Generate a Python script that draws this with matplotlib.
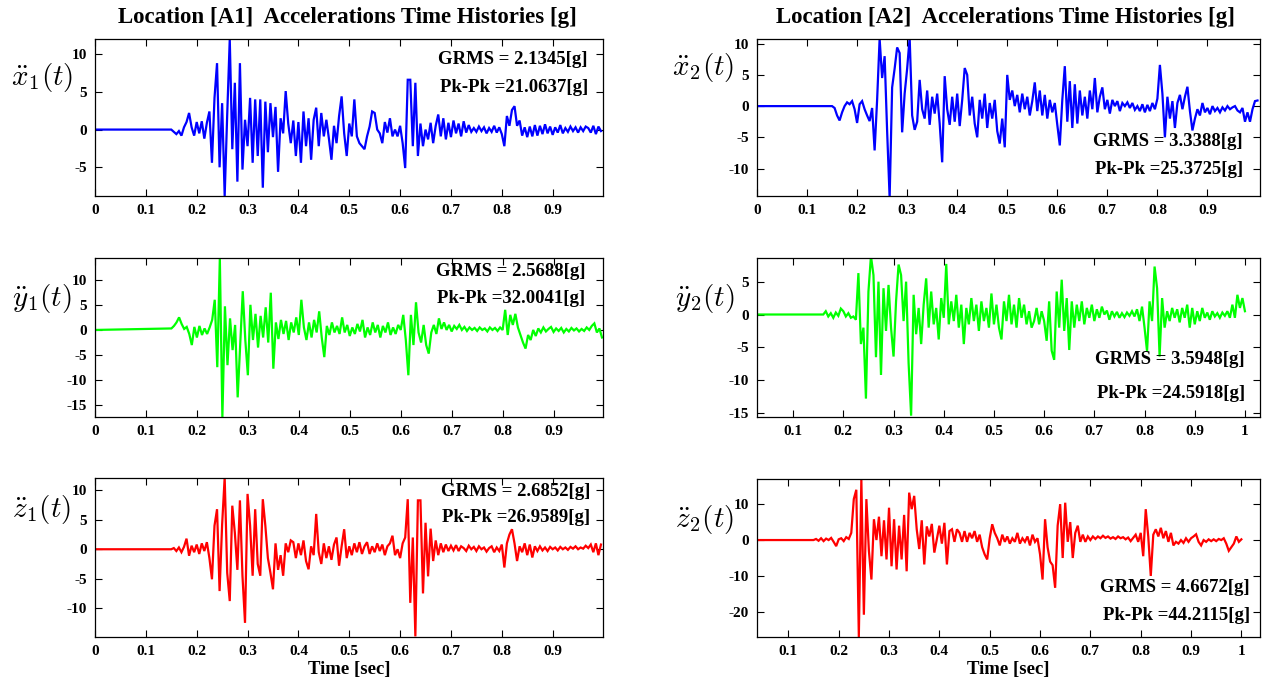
import numpy as np
import matplotlib
matplotlib.use("Agg")
import matplotlib.pyplot as plt

plt.rcParams['font.family'] = ['Liberation Serif', 'DejaVu Serif']
plt.rcParams['font.weight'] = 'bold'
plt.rcParams['mathtext.fontset'] = 'cm'
plt.rcParams['axes.unicode_minus'] = False

# ---------------- data: acceleration records [g], sampled every 5 ms after onset ----------------
dt = 0.005

x1_t0 = 0.15
x1 = [0.0, -0.3, -0.6, -0.2, -0.8, 0.3, 1.0, 2.2, 0.3, -0.8,
      1.0, -0.5, 1.1, -1.2, 0.9, 2.4, -4.4, 4.2, 8.8, -5.0,
      3.5, -8.8, 2.0, 12.0, -2.6, 6.2, -6.9, 8.8, -5.3, 1.3,
      -2.2, 4.2, -4.4, 4.0, -3.5, 4.0, -7.7, 3.7, -3.0, 3.5,
      -1.0, 3.0, -5.6, 1.5, -0.5, 5.1, 0.8, -1.8, 1.2, -3.5,
      1.0, -4.4, 2.4, -2.2, 1.5, -4.0, 1.3, 2.9, -2.2, 2.2,
      -0.9, 1.3, -1.2, -4.0, 0.5, -1.8, 1.8, 4.4, -0.5, -3.5,
      0.8, -0.9, 4.0, -0.9, -1.8, -2.2, -2.6, -0.9, 0.4, 2.4,
      2.2, 0.0, -0.5, -1.8, 1.0, -0.4, 1.5, -0.9, 0.0, -0.9,
      0.5, -1.8, -5.1, 6.6, 6.6, -2.2, 6.2, -3.5, 0.8, -2.2,
      0.0, -1.3, 0.9, -1.8, 0.5, 2.0, -0.9, 1.5, -1.3, 0.9,
      -1.0, 1.2, -0.5, 0.8, -0.9, 1.1, -0.4, 0.6, -0.3, 0.2,
      -0.3, 0.4, -0.2, 0.3, -0.5, 0.2, -0.3, 0.5, -0.4, 0.3,
      -0.6, -2.2, 1.8, 0.5, 2.6, 3.1, 0.5, 1.2, -0.8, 0.3,
      -1.0, 0.4, -0.9, 0.6, -0.8, 0.5, -0.6, 0.7, -0.5, 0.4,
      -0.7, 0.3, -0.4, 0.6, -0.5, 0.2, -0.3, 0.4, -0.2, 0.3,
      -0.4, 0.3, -0.2, 0.4, 0.2, -0.4, 0.5, -0.6, 0.4, -0.2]

x2_t0 = 0.15
x2 = [0.0, -0.3, -1.5, -2.3, -1.0, 0.0, 0.6, 0.3, 0.8, -0.5,
      -2.7, 0.3, 0.8, -0.5, -1.5, -2.4, -0.3, -7.1, 1.0, 10.8,
      4.5, 8.0, -4.0, -14.7, 3.0, 6.0, 9.4, 8.5, -4.2, 2.0,
      6.0, 11.0, -1.5, -3.8, -2.5, 4.2, -0.5, -2.0, 2.5, -3.0,
      1.5, -1.2, 2.0, -2.8, -9.0, 4.8, -0.5, -3.0, 1.5, -2.5,
      2.0, -3.2, 1.0, 6.1, 5.0, -1.5, 1.5, -2.8, -5.0, 1.0,
      -2.0, 2.0, -3.5, 0.5, -2.0, 1.0, -4.0, -6.0, -2.0, -6.6,
      5.0, 1.0, 2.5, 0.0, 1.8, -1.0, 2.0, -0.5, 1.5, -1.5,
      0.8, 3.8, -0.8, 2.5, -1.5, 1.8, -2.0, 1.0, -1.0, 0.5,
      -3.0, -6.3, 1.0, 6.4, -2.5, 4.0, -3.5, 3.5, -2.8, 2.5,
      -1.5, 1.5, -2.0, 2.5, -0.5, 4.5, -1.0, 1.5, 3.0, -0.5,
      1.0, -1.2, 1.0, 0.0, 0.8, -0.8, 0.5, 0.0, 0.6, -0.3,
      0.5, -0.6, 0.0, -0.8, 0.3, -1.0, 0.2, -0.8, 0.5, -0.5,
      1.2, 6.6, 2.0, -5.0, 1.5, -2.0, 0.8, -3.5, 0.5, 1.8,
      -0.5, 1.5, 3.1, -0.8, -3.9, -2.0, -0.5, -1.5, 0.5, -1.0,
      -0.3, -1.3, 0.0, -0.8, -0.3, -1.0, -0.2, -0.7, 0.0, -0.5,
      -0.2, 0.0, -0.7, -1.0, -0.3, -2.5, -1.0, -2.5, -0.5, 0.8,
      0.9]

y1_t0 = 0.15
y1 = [0.3, 0.8, 1.5, 2.5, 1.2, 0.2, 0.6, -0.8, -3.0, 0.6,
      -1.5, 0.8, -1.0, 0.3, -0.8, 0.5, 2.0, 6.0, -7.4, 14.3,
      -17.4, 4.7, -7.0, 2.3, -4.0, 1.0, -13.4, -3.0, 7.7, -2.0,
      -9.0, 5.0, -2.0, 3.2, -3.5, 2.8, -1.5, 4.5, -2.5, 7.4,
      -7.7, 1.5, -1.8, 2.0, -0.8, 1.8, -2.0, 1.5, -0.5, 2.5,
      -1.0, 6.0, 0.5, -2.0, 1.5, -1.5, 2.0, -0.5, 3.7, -1.5,
      -5.4, 0.8, -1.0, 1.5, -0.5, 0.8, -0.8, 2.5, -0.5, 1.0,
      -1.2, 0.5, -0.8, 1.2, -0.3, 2.0, -1.5, 0.5, -1.0, 1.5,
      -0.5, 1.0, -1.5, 0.8, -0.5, 1.5, -1.0, 0.5, -0.8, 1.0,
      0.0, 3.0, -2.0, -9.0, 3.0, -3.0, 5.5, -0.5, -2.5, 1.0,
      -3.0, -4.7, -0.5, 1.0, -0.8, 2.3, 0.2, 1.5, 0.0, 1.0,
      -0.3, 0.8, 0.2, 1.0, 0.0, 0.6, -0.2, 0.5, 0.0, 0.4,
      -0.2, 0.5, 0.0, 0.3, -0.3, 0.5, 0.0, 0.4, -0.2, 0.5,
      0.0, 4.0, -1.0, 3.0, 1.0, 3.2, 0.5, -1.0, -2.5, -3.7,
      -1.0, -2.0, 0.0, -1.2, 0.3, -0.5, 0.5, -0.3, 0.2, 0.6,
      -0.4, 0.3, -0.2, 0.4, -0.5, 0.2, -0.3, 0.4, -0.1, 0.3,
      -0.3, 0.2, -0.2, 0.5, 0.0, 0.8, 1.3, -0.5, 0.3, -1.5]

y2_t0 = 0.16
y2 = [0.0, 0.5, -0.3, 0.2, -0.5, 0.3, -0.2, 0.9, 0.5, -0.3,
      0.2, -0.5, -0.3, -0.8, 6.3, -4.5, -2.0, -12.8, 3.5, 8.9,
      6.0, -6.5, 5.0, -9.2, 4.0, -2.5, 4.5, -2.0, -6.4, 2.0,
      7.6, 6.0, -1.0, 5.0, -7.4, -15.4, 3.0, -3.0, 1.0, -4.5,
      1.5, 5.5, -2.0, 3.5, -1.5, 1.0, -3.8, 2.5, -0.5, 7.7,
      -1.5, 2.0, -1.0, 3.0, -2.0, 1.5, -4.5, 1.0, -1.5, 2.5,
      -1.0, 1.5, -2.5, 2.0, -1.0, 1.0, -2.0, 3.2, -1.5, 1.5,
      -2.0, -3.8, 2.0, -1.0, 3.0, -1.5, 1.5, -2.0, 2.5, -0.5,
      1.5, -1.5, 0.5, -2.0, -1.0, 1.0, -1.5, 0.5, -1.0, -4.0,
      2.0, -5.5, -6.9, 3.5, -2.0, 5.3, -2.5, 2.5, -5.4, 2.0,
      -2.0, 1.5, -1.0, 2.0, -1.5, 1.0, -0.5, 1.5, -1.0, 0.8,
      -0.5, 1.2, 0.0, 0.6, -0.8, 0.5, -0.3, 0.4, -0.5, 0.2,
      -0.4, 0.3, -0.2, 0.5, -0.3, 0.8, -1.0, 1.2, -2.0, -5.6,
      2.0, -1.0, 7.3, 4.0, -6.4, 2.5, -2.0, 0.5, -1.0, 1.0,
      -0.5, 0.8, -1.2, 1.0, -0.5, 1.5, -2.0, 1.0, -1.5, 0.5,
      -1.0, 1.0, -0.5, 0.3, -0.8, 0.5, -0.3, 0.2, -0.5, 0.3,
      -0.2, 0.5, -0.5, 1.5, -0.5, 3.0, 1.0, 2.5, 0.5]

z1_t0 = 0.15
z1 = [0.0, 0.2, -0.3, 0.3, -0.5, 0.4, 1.8, -1.1, 0.6, -0.5,
      0.8, -0.8, 1.0, -0.3, 1.2, -1.5, -5.1, 4.0, 6.8, -7.1,
      4.2, 12.2, -4.0, -8.8, 7.4, 2.8, -3.5, 8.3, -4.5, -12.5,
      9.4, 4.0, -4.5, 6.8, -2.5, -4.5, 8.5, 4.0, -1.5, -4.0,
      -6.8, 1.0, -3.5, -1.0, -4.5, 1.0, -0.5, 1.5, 1.2, -1.5,
      1.0, -1.0, 1.5, -2.0, -3.4, 0.5, -1.0, 6.0, -0.5, -2.5,
      1.0, -1.5, 0.5, -1.8, 0.8, 2.0, -2.8, 0.5, 3.4, -1.5,
      0.5, -1.0, 1.0, -0.5, 1.2, -0.8, 0.5, 1.2, -0.8, 0.5,
      -0.5, 1.0, -0.3, 0.8, -1.0, 0.5, 1.0, 2.3, -1.0, 0.0,
      -1.5, 1.0, 2.0, 8.5, -9.1, 2.0, -14.8, 8.3, 8.3, -7.5,
      4.5, -4.6, 3.5, -2.0, 1.5, -1.0, 1.0, -0.5, 0.8, -0.3,
      0.6, -0.2, 0.7, -0.3, 0.5, 0.2, -0.3, 0.6, 0.0, 0.4,
      -0.3, 0.5, 0.0, 0.3, -0.4, 0.2, 0.5, -0.5, 0.3, -0.3,
      0.8, -3.1, 1.0, 2.5, 3.4, 1.0, -2.0, 0.5, -0.5, 1.0,
      -1.0, 0.8, -1.4, 0.5, -0.3, 0.5, -0.2, 0.3, -0.3, 0.4,
      0.0, 0.3, -0.2, 0.4, 0.0, 0.3, -0.1, 0.4, 0.1, 0.5,
      0.0, 0.3, 0.1, 0.6, 0.2, 0.8, -0.5, 1.0, -1.0, 0.8]

z2_t0 = 0.15
z2 = [0.0, 0.3, -0.2, 0.5, -0.3, 0.4, 0.0, 0.6, -0.5, -1.7,
      0.2, 0.5, -0.3, 0.8, 0.3, 2.0, 11.4, 14.0, -27.0, 17.0,
      -20.8, 11.4, -3.0, -11.0, 5.8, 0.0, 6.5, -4.5, 5.5, -5.4,
      9.0, -7.3, 5.8, -8.2, 4.0, -5.4, 7.0, -8.7, 13.2, 8.6,
      12.3, 3.0, -2.5, 5.5, -6.8, 3.8, 1.0, 4.5, -3.5, 0.2,
      4.0, -1.0, 4.8, -6.8, 2.5, 3.0, -0.5, 3.0, 2.0, -0.5,
      2.5, -0.5, 2.0, 0.5, 2.5, -0.5, 1.5, -2.0, -4.0, -5.4,
      0.5, 4.4, 2.0, 0.5, -1.5, 1.5, -0.5, 1.0, -1.0, 0.5,
      -0.5, 2.0, -1.0, 0.5, -0.5, 1.0, -1.5, 1.5, -0.5, 0.5,
      -4.0, -11.0, 5.8, -2.0, -6.0, -7.0, -13.3, 4.0, 10.0, -5.0,
      10.4, -0.5, 5.0, -5.0, 2.0, 4.0, -0.5, 1.5, -0.5, 1.0,
      0.0, 1.0, 0.3, 1.0, 0.5, 1.2, 0.6, 1.0, 0.4, 0.8,
      0.3, 1.0, 0.5, 0.8, 0.2, 0.7, -0.3, 0.6, 1.5, -0.5,
      2.0, -4.5, 8.6, 1.0, -10.0, 1.5, 3.0, 1.0, 3.4, 0.5,
      2.5, -0.5, 2.0, -1.5, -0.5, -1.0, 0.0, -0.8, 0.5, -0.5,
      0.5, 1.0, 1.6, -0.5, -1.5, 0.0, -0.5, 0.2, -0.3, 0.2,
      -0.3, 0.3, 0.0, 0.5, -1.0, -3.0, -2.0, -1.0, 1.0, -0.5,
      0.2]

grms = {"x1": "2.1345", "x2": "3.3388", "y1": "2.5688",
        "y2": "3.5948", "z1": "2.6852", "z2": "4.6672"}
pkpk = {"x1": "21.0637", "x2": "25.3725", "y1": "32.0041",
        "y2": "24.5918", "z1": "26.9589", "z2": "44.2115"}

xticks_a = [0, 0.1, 0.2, 0.3, 0.4, 0.5, 0.6, 0.7, 0.8, 0.9]
xticks_b = [0.1, 0.2, 0.3, 0.4, 0.5, 0.6, 0.7, 0.8, 0.9, 1]


def record(t0, vals):
    t = np.r_[0.0, t0 + dt * np.arange(len(vals))]
    v = np.r_[0.0, vals]
    return t, v


# ---------------- figure ----------------
W, H = 1263, 682
fig = plt.figure(figsize=(W / 100, H / 100), dpi=100)


def add_axes(px_left, px_top, px_right, px_bottom):
    return fig.add_axes([px_left / W, 1 - px_bottom / H,
                         (px_right - px_left) / W, (px_bottom - px_top) / H])


panels = [
    # key, t0, data, color, box(px), xlim, ylim, yticks, xticks, label pos, stats pos(px), label
    ("x1", x1_t0, x1, "#0000ff", (95, 39, 603, 196), (0, 0.999), (-8.8, 12.0),
     [-5, 0, 5, 10], xticks_a, (42, 78), (588, 60, 88), r"$\ddot{x}_1(t)$"),
    ("x2", x2_t0, x2, "#0000ff", (757, 39, 1260, 196), (0, 1.005), (-14.4, 10.75),
     [-10, -5, 0, 5, 10], xticks_a, (703, 68), (1243, 141, 170), r"$\ddot{x}_2(t)$"),
    ("y1", y1_t0, y1, "#00ff00", (95, 258, 603, 417), (0, 0.997), (-17.3, 14.3),
     [-15, -10, -5, 0, 5, 10], xticks_a, (42, 298), (585, 271, 298), r"$\ddot{y}_1(t)$"),
    ("y2", y2_t0, y2, "#00ff00", (757, 258, 1260, 417), (0.028, 1.03), (-15.6, 8.6),
     [-15, -10, -5, 0, 5], xticks_b, (705, 298), (1245, 360, 393), r"$\ddot{y}_2(t)$"),
    ("z1", z1_t0, z1, "#ff0000", (95, 478, 603, 637), (0, 0.999), (-14.9, 12.1),
     [-10, -5, 0, 5, 10], xticks_a, (42, 510), (590, 491, 517), r"$\ddot{z}_1(t)$"),
    ("z2", z2_t0, z2, "#ff0000", (757, 479, 1260, 637), (0.0377, 1.037), (-27.0, 17.0),
     [-20, -10, 0, 10], xticks_b, (705, 520), (1250, 587, 616), r"$\ddot{z}_2(t)$"),
]

for key, t0, vals, col, box, xl, yl, yt, xt, lab, stats, name in panels:
    ax = add_axes(*box)
    t, v = record(t0, vals)
    ax.plot(t, v, color=col, lw=1.6, solid_joinstyle="miter")
    ax.set_xlim(*xl)
    ax.set_ylim(*yl)
    ax.set_yticks(yt)
    ax.set_xticks(xt)
    ax.set_xticklabels([("%g" % x) for x in xt])
    ax.tick_params(direction="in", top=True, right=True, length=5, width=0.8,
                   labelsize=11, pad=6)
    for lbl in ax.get_xticklabels() + ax.get_yticklabels():
        lbl.set_fontweight("bold")
    for s in ax.spines.values():
        s.set_linewidth(0.9)
    fig.text(lab[0] / W, 1 - lab[1] / H, name, fontsize=21, ha="center",
             va="center")
    fig.text(stats[0] / W, 1 - stats[1] / H, "GRMS = %s[g]" % grms[key],
             fontsize=13.5, fontweight="bold", ha="right", va="center")
    fig.text(stats[0] / W, 1 - stats[2] / H, "Pk-Pk =%s[g]" % pkpk[key],
             fontsize=13.5, fontweight="bold", ha="right", va="center")
    if key.startswith("z"):
        ax.set_xlabel("Time [sec]", fontsize=13.5, fontweight="bold", labelpad=2)

fig.text(347 / W, 1 - 18 / H, "Location [A1]  Accelerations Time Histories [g]",
         fontsize=16.5, fontweight="bold", ha="center", va="center")
fig.text(1005 / W, 1 - 18 / H, "Location [A2]  Accelerations Time Histories [g]",
         fontsize=16.5, fontweight="bold", ha="center", va="center")

fig.savefig("out.png", dpi=100, facecolor="white")
